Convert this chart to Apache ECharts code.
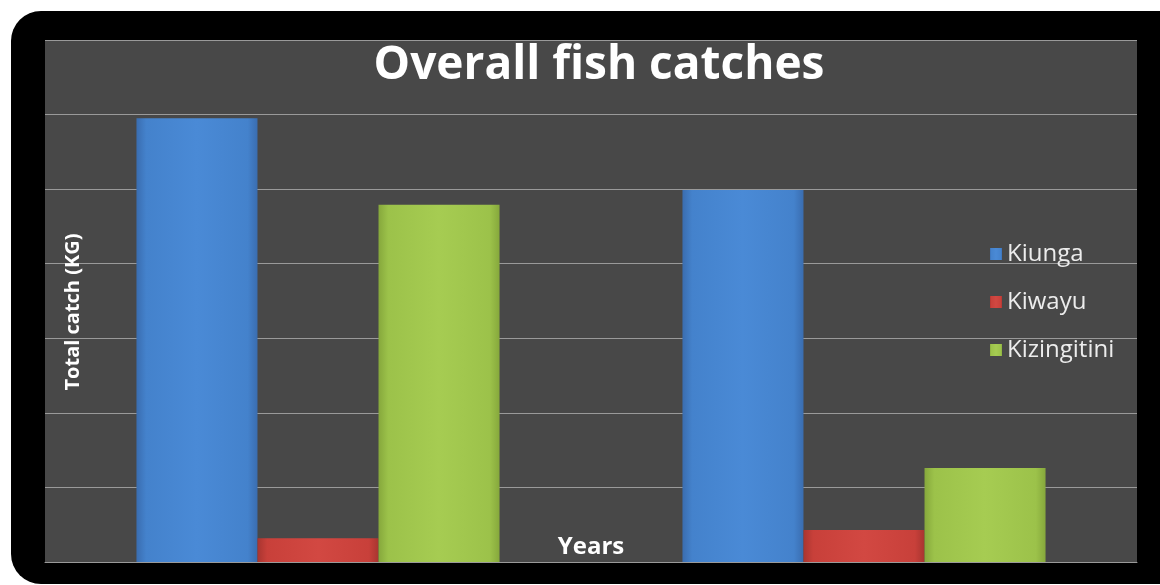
<!DOCTYPE html>
<html>
<head>
<meta charset="utf-8">
<script src="https://cdn.jsdelivr.net/npm/echarts@6/dist/echarts.min.js"></script>
<style>
  html, body { margin: 0; padding: 0; background: #fff; }
  #main { width: 1160px; height: 585px; }
</style>
</head>
<body>
<div id="main"></div>
<script>
// data (axis has no labels, units are gridline steps)
var years = ['Year 1', 'Year 2'];
var kiunga = [5.95, 4.99];
var kiwayu = [0.32, 0.43];
var kizingitini = [4.79, 1.26];

var myChart = echarts.init(document.getElementById('main'));

function barColor(dark, mid, light) {
    return new echarts.graphic.LinearGradient(0, 0, 1, 0, [
        { offset: 0, color: dark },
        { offset: 0.08, color: mid },
        { offset: 0.5, color: light },
        { offset: 0.92, color: mid },
        { offset: 1, color: dark }
    ]);
}

var option = {
    backgroundColor: '#ffffff',
    graphic: [
        {
            type: 'rect',
            z: -10,
            shape: { x: 11, y: 11, width: 1190, height: 573, r: 30 },
            style: { fill: '#000000' }
        }
    ],
    title: {
        text: 'Overall fish catches',
        left: 594,
        top: 38,
        textAlign: 'center',
        textStyle: {
            color: '#ffffff',
            fontFamily: 'Open Sans',
            fontWeight: 'bold',
            fontSize: 46
        }
    },
    legend: {
        orient: 'vertical',
        left: 985,
        top: 237,
        itemGap: 24,
        itemWidth: 12,
        itemHeight: 12,
        icon: 'rect',
        textStyle: {
            color: '#ececec',
            fontFamily: 'Open Sans',
            fontSize: 24
        }
    },
    grid: {
        left: 45,
        right: 23,
        top: 40,
        bottom: 23,
        show: true,
        backgroundColor: '#484848',
        borderWidth: 0
    },
    xAxis: {
        type: 'category',
        data: years,
        name: 'Years',
        nameLocation: 'middle',
        nameGap: -27,
        nameTextStyle: {
            color: '#ffffff',
            fontFamily: 'Open Sans',
            fontWeight: 'bold',
            fontSize: 24
        },
        axisLine: { lineStyle: { color: '#9a9a9a', width: 1 } },
        axisTick: { show: false },
        axisLabel: { show: false }
    },
    yAxis: {
        type: 'value',
        min: 0,
        max: 7,
        interval: 1,
        name: 'Total catch (KG)',
        nameLocation: 'middle',
        nameRotate: 90,
        nameGap: -38,
        nameTextStyle: {
            color: '#ffffff',
            fontFamily: 'Open Sans',
            fontWeight: 'bold',
            fontSize: 20,
            padding: [0, 22, 0, 0]
        },
        axisLine: { show: false },
        axisTick: { show: false },
        axisLabel: { show: false },
        splitLine: { lineStyle: { color: '#9a9a9a', width: 1 } }
    },
    series: [
        {
            name: 'Kiunga',
            type: 'bar',
            data: kiunga,
            barGap: '0%',
            barCategoryGap: '33.5%',
            itemStyle: { color: barColor('#3a6db0', '#4482cc', '#4a8ad6') }
        },
        {
            name: 'Kiwayu',
            type: 'bar',
            data: kiwayu,
            itemStyle: { color: barColor('#a83530', '#c8403a', '#d24842') }
        },
        {
            name: 'Kizingitini',
            type: 'bar',
            data: kizingitini,
            itemStyle: { color: barColor('#86a83c', '#9cc24a', '#a6cc52') }
        }
    ]
};

myChart.setOption(option);
</script>
</body>
</html>
